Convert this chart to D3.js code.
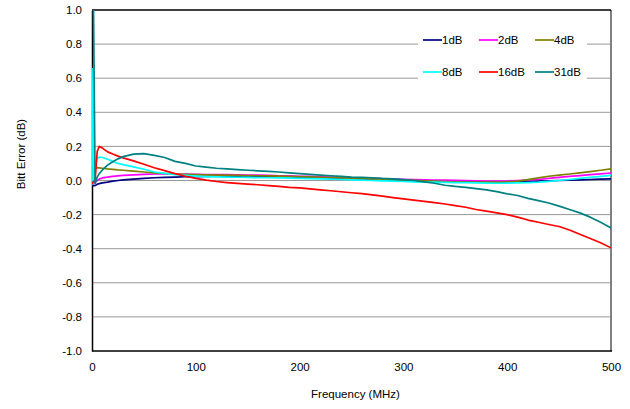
<!DOCTYPE html>
<html>
<head>
<meta charset="utf-8">
<script src="https://cdn.jsdelivr.net/npm/d3@7"></script>
<style>
  body { margin: 0; background: #fff; }
  svg { display: block; font-family: "Liberation Sans", Arial, sans-serif; }
</style>
</head>
<body>
<svg id="chart" width="630" height="409"></svg>
<script>
const freq = [0,1,3,5,7,10,15,20,25,30,40,50,60,70,80,90,100,110,120,130,140,150,160,170,180,190,200,210,220,230,240,250,260,270,280,290,300,310,320,330,340,350,360,370,380,390,400,410,420,430,440,450,460,470,480,490,500];

const s1dB  = [-0.03,-0.03,-0.03,-0.022,-0.018,-0.014,-0.01,-0.004,0.0,0.004,0.008,0.012,0.016,0.018,0.02,0.022,0.023,0.024,0.025,0.025,0.026,0.025,0.025,0.024,0.023,0.022,0.02,0.018,0.016,0.014,0.012,0.01,0.008,0.006,0.005,0.004,0.002,0.0,-0.002,-0.004,-0.006,-0.007,-0.008,-0.009,-0.01,-0.01,-0.009,-0.008,-0.006,-0.004,-0.002,0.0,0.002,0.004,0.006,0.008,0.01];
const s2dB  = [-0.02,-0.02,-0.01,0.0,0.008,0.015,0.02,0.024,0.027,0.03,0.033,0.036,0.038,0.039,0.038,0.037,0.036,0.035,0.035,0.034,0.033,0.032,0.031,0.03,0.028,0.027,0.025,0.024,0.022,0.02,0.018,0.016,0.014,0.012,0.01,0.009,0.007,0.006,0.004,0.003,0.002,0.001,0.0,-0.002,-0.003,-0.004,-0.003,0.0,0.003,0.006,0.012,0.018,0.024,0.029,0.034,0.039,0.044];
const s4dB  = [0.0,0.05,0.07,0.075,0.074,0.072,0.068,0.065,0.062,0.06,0.055,0.05,0.045,0.041,0.038,0.036,0.034,0.033,0.032,0.031,0.03,0.029,0.028,0.027,0.026,0.025,0.023,0.021,0.019,0.017,0.015,0.013,0.011,0.009,0.007,0.005,0.003,0.001,-0.002,-0.004,-0.006,-0.008,-0.009,-0.01,-0.01,-0.01,-0.008,-0.004,0.005,0.015,0.025,0.032,0.038,0.045,0.052,0.06,0.068];
const s8dB  = [0.66,-0.02,0.1,0.13,0.137,0.135,0.125,0.112,0.1,0.093,0.08,0.066,0.05,0.042,0.035,0.03,0.026,0.023,0.021,0.02,0.019,0.018,0.017,0.016,0.015,0.014,0.012,0.011,0.01,0.008,0.006,0.004,0.002,0.0,-0.002,-0.004,-0.006,-0.008,-0.009,-0.01,-0.011,-0.012,-0.013,-0.014,-0.015,-0.016,-0.015,-0.014,-0.012,-0.01,-0.005,0.0,0.006,0.012,0.018,0.024,0.03];
const s16dB = [-0.02,-0.01,0.0,0.17,0.2,0.19,0.168,0.155,0.143,0.133,0.115,0.095,0.075,0.058,0.04,0.025,0.012,0.002,-0.006,-0.012,-0.017,-0.021,-0.025,-0.03,-0.035,-0.04,-0.043,-0.049,-0.055,-0.06,-0.066,-0.072,-0.077,-0.084,-0.092,-0.1,-0.108,-0.115,-0.122,-0.13,-0.138,-0.147,-0.157,-0.17,-0.18,-0.19,-0.2,-0.215,-0.232,-0.245,-0.258,-0.27,-0.29,-0.315,-0.34,-0.365,-0.395];
const s31dB = [1.3,1.3,-0.02,0.02,0.04,0.062,0.09,0.11,0.127,0.14,0.155,0.158,0.147,0.135,0.112,0.1,0.085,0.078,0.072,0.068,0.064,0.06,0.057,0.054,0.05,0.045,0.04,0.036,0.032,0.028,0.024,0.02,0.018,0.016,0.012,0.01,0.005,0.0,-0.008,-0.016,-0.028,-0.035,-0.04,-0.048,-0.055,-0.065,-0.078,-0.088,-0.105,-0.118,-0.132,-0.15,-0.17,-0.19,-0.215,-0.245,-0.278];

const seriesNames = ["1dB","2dB","4dB","8dB","16dB","31dB"];
const seriesValues = [s1dB, s2dB, s4dB, s8dB, s16dB, s31dB];
const seriesColors = ["#000080","#ff00ff","#808000","#00ffff","#ff0000","#008080"];

const xTicks = [0,100,200,300,400,500];
const yTicks = [-1.0,-0.8,-0.6,-0.4,-0.2,0.0,0.2,0.4,0.6,0.8,1.0];

const svg = d3.select("#chart");
const L = 92, R = 611, T = 10, B = 351;

const x = d3.scaleLinear().domain([0, 500]).range([L, R]);
const y = d3.scaleLinear().domain([-1, 1]).range([B, T]);

// gridlines
svg.append("g").selectAll("line").data(yTicks.filter(v => v > -1 && v < 1)).join("line")
  .attr("x1", L).attr("x2", R)
  .attr("y1", d => y(d)).attr("y2", d => y(d))
  .attr("stroke", "#999").attr("stroke-width", 1);

// clip
svg.append("clipPath").attr("id", "clip").append("rect")
  .attr("x", L).attr("y", T).attr("width", R - L).attr("height", B - T);

// legend background (covers gridlines)
const legendX = 418, legendY = 28;
svg.append("rect").attr("x", legendX).attr("y", legendY).attr("width", 169).attr("height", 58).attr("fill", "#fff");

// frame
svg.append("line").attr("x1", R).attr("x2", R).attr("y1", T).attr("y2", B).attr("stroke", "#808080").attr("stroke-width", 2);
svg.append("line").attr("x1", L).attr("x2", R).attr("y1", T).attr("y2", T).attr("stroke", "#000").attr("stroke-width", 1.5);
svg.append("line").attr("x1", L).attr("x2", R + 1).attr("y1", B).attr("y2", B).attr("stroke", "#000").attr("stroke-width", 1.5);

// axes (labels only, no tick marks)
const fmt = d => d3.format(".1f")(d).replace("\u2212", "-");
const yAxis = d3.axisLeft(y).tickValues(yTicks).tickFormat(fmt).tickSize(0).tickPadding(10);
const yg = svg.append("g").attr("transform", `translate(${L},0)`).call(yAxis);
yg.select(".domain").attr("stroke", "#000").attr("stroke-width", 1.5);
yg.selectAll("text").attr("font-size", "11.5px").attr("font-family", "Liberation Sans, Arial, sans-serif").attr("fill", "#000");

const xAxis = d3.axisBottom(x).tickValues(xTicks).tickFormat(d3.format("d")).tickSize(0).tickPadding(12);
const xg = svg.append("g").attr("transform", `translate(0,${B})`).call(xAxis);
xg.select(".domain").remove();
xg.selectAll("text").attr("font-size", "11.5px").attr("font-family", "Liberation Sans, Arial, sans-serif").attr("fill", "#000");

// lines (drawn over the axis line, clipped to the plot)
const line = d3.line().x((d, i) => x(freq[i])).y(d => y(d));
const lg = svg.append("g").attr("clip-path", "url(#clip)");
seriesValues.forEach((vals, k) => {
  lg.append("path").datum(vals)
    .attr("d", line)
    .attr("fill", "none")
    .attr("stroke", seriesColors[k])
    .attr("stroke-width", 1.7)
    .attr("stroke-linejoin", "round");
});

// axis titles
svg.append("text").attr("x", (L + R) / 2 + 4).attr("y", 398)
  .attr("text-anchor", "middle").attr("font-size", "11.5px").text("Frequency (MHz)");
svg.append("text").attr("transform", "translate(25,154) rotate(-90)")
  .attr("text-anchor", "middle").attr("font-size", "11.5px").text("Bitt Error (dB)");

// legend
const cols = [423, 479, 535];
const rows = [40, 72];
seriesNames.forEach((name, k) => {
  const cx = cols[k % 3], cy = rows[Math.floor(k / 3)];
  svg.append("line").attr("x1", cx).attr("x2", cx + 19).attr("y1", cy).attr("y2", cy)
    .attr("stroke", seriesColors[k]).attr("stroke-width", 1.7);
  svg.append("text").attr("x", cx + 19).attr("y", cy).attr("dy", "0.36em")
    .attr("font-size", "11.5px").text(name);
});
</script>
</body>
</html>
